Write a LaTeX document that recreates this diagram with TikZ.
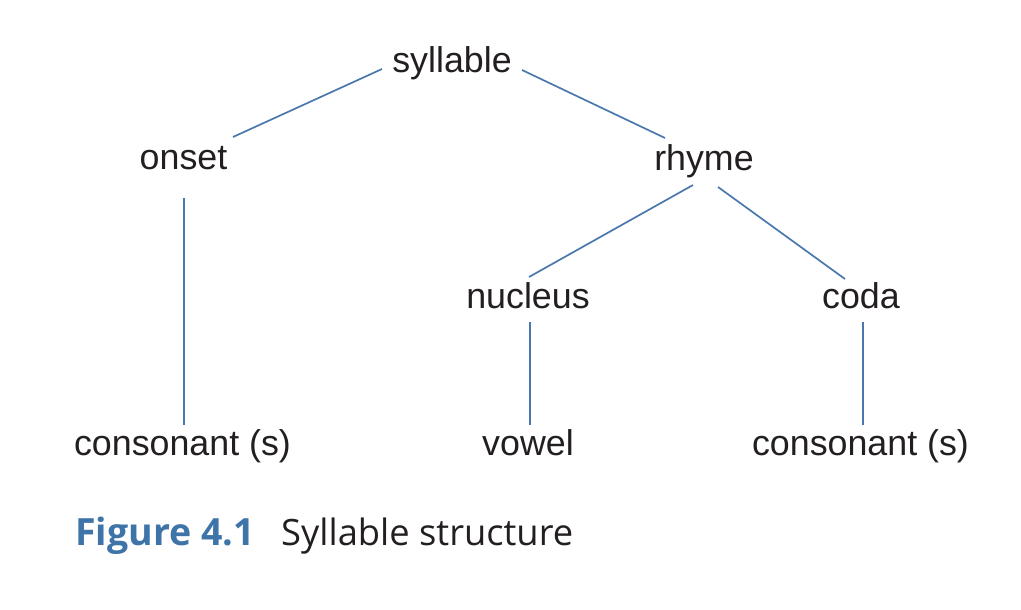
\documentclass[tikz,border=0pt]{standalone}
\usepackage{fontspec}
\setmainfont{Liberation Sans}
\newfontfamily\capfont{Open Sans}
\usetikzlibrary{calc}
\definecolor{linkblue}{HTML}{4A78AD}
\definecolor{capblue}{HTML}{3E74A8}
\definecolor{txt}{HTML}{231F20}
\tikzset{
  word/.style={anchor=base, inner sep=0pt, text=txt, font=\fontsize{35.8}{43}\selectfont},
  link/.style={draw=linkblue, line width=1.7pt}
}
\begin{document}
\begin{tikzpicture}[x=1pt,y=-1pt]
\useasboundingbox (0,0) rectangle (1021,610);
\node[word] (syl) at (452,73) {syllable};
\node[word] (onset) at (183.5,169) {onset};
\node[word] (rhyme) at (704,170) {rhyme};
\node[word] (nuc) at (528,308) {nucleus};
\node[word] (coda) at (861,308) {coda};
\node[word] (cons1) at (182.5,455) {consonant (s)};
\node[word] (vowel) at (528,455) {vowel};
\node[word] (cons2) at (860.5,455) {consonant (s)};
\draw[link] ($(syl.base)+(-70,-4)$) -- ($(onset.base)+(49.5,-32)$);
\draw[link] ($(syl.base)+(70,-3)$) -- ($(rhyme.base)+(-39,-32)$);
\draw[link] ($(rhyme.base)+(-11,15)$) -- ($(nuc.base)+(1,-31)$);
\draw[link] ($(rhyme.base)+(14,17)$) -- ($(coda.base)+(-16,-29)$);
\draw[link] ($(onset.base)+(0.5,29)$) -- ($(cons1.base)+(1.5,-30)$);
\draw[link] ($(nuc.base)+(2,14)$) -- ($(vowel.base)+(2,-30)$);
\draw[link] ($(coda.base)+(2,14)$) -- ($(cons2.base)+(2.5,-30)$);
\node[anchor=base west, inner sep=0pt, text=capblue, font=\capfont\bfseries\fontsize{37.5}{45}\selectfont] (fig) at (75,545) {Figure 4.1};
\node[anchor=base west, inner sep=0pt, text=txt, font=\capfont\fontsize{36.3}{44}\selectfont] (cap) at (281,545) {Syllable structure};
\end{tikzpicture}
\end{document}
